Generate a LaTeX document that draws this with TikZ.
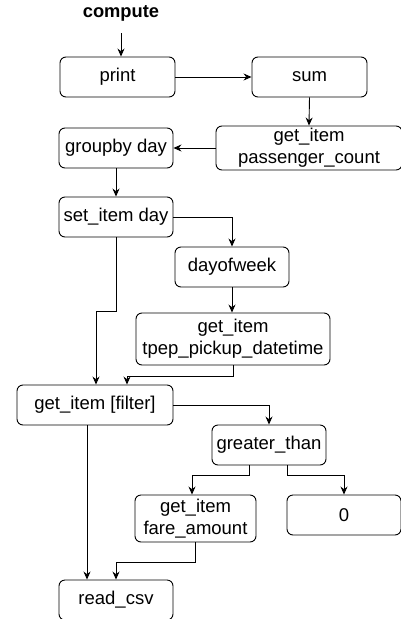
\documentclass[tikz,border=0pt]{standalone}
\usepackage{fontspec}
\setmainfont{Liberation Sans}
\usetikzlibrary{arrows.meta}
\begin{document}
\begin{tikzpicture}[x=1pt,y=-1pt,
  box/.style={draw=black,line width=0.9pt,rounded corners=6pt,rectangle,inner sep=0pt,align=center,
    font=\fontsize{18.5}{22}\selectfont},
  conn/.style={draw=black,line width=0.9pt,-{Stealth[length=8pt,width=7pt]}}]
\useasboundingbox (0,0) rectangle (400,619);
\node[font=\fontsize{18.3}{22}\selectfont\bfseries] (compute) at (121,13) {compute};
\coordinate (cstart) at (121,33);
\node[box,minimum width=115pt,minimum height=40pt] (print) at (117.5,77) {print};
\node[box,minimum width=115pt,minimum height=40pt] (sum) at (309.5,77) {sum};
\node[box,minimum width=186pt,minimum height=44pt] (gipc) at (309,148) {get\_item\\passenger\_count};
\node[box,minimum width=114pt,minimum height=40pt] (groupby) at (116,148) {groupby day};
\node[box,minimum width=114pt,minimum height=40pt] (setitem) at (116,217) {set\_item day};
\node[box,minimum width=114pt,minimum height=40pt] (dow) at (232,267) {dayofweek};
\node[box,minimum width=194pt,minimum height=52pt] (gitpep) at (233,339) {get\_item\\tpep\_pickup\_datetime};
\node[box,minimum width=156pt,minimum height=40pt] (filter) at (95,405) {get\_item [filter]};
\node[box,minimum width=114pt,minimum height=40pt] (gt) at (269,445) {greater\_than};
\node[box,minimum width=121pt,minimum height=47pt] (fare) at (195.5,518.5) {get\_item\\fare\_amount};
\node[box,minimum width=114pt,minimum height=40pt] (zero) at (344,515) {0};
\node[box,minimum width=114pt,minimum height=40pt] (readcsv) at (116,600) {read\_csv};

\draw[conn] (cstart) -- (cstart |- print.north);
\draw[conn] (print.east) -- (sum.west);
\draw[conn] (sum.south) -- (gipc.north);
\draw[conn] (gipc.west) -- (groupby.east);
\draw[conn] (groupby.south) -- (setitem.north);
\draw[conn] (setitem.east) -| (dow.north);
\draw[conn] (dow.south) -- (dow.south |- gitpep.north);
\draw[conn] (setitem.south) -- ++(0,74) -| ([xshift=1pt]filter.north);
\draw[conn] (gitpep.south) -- ++(0,11) -| ([xshift=32pt]filter.north);
\draw[conn] (filter.east) -| (gt.north);
\draw[conn] ([xshift=-20pt]gt.south) -- ++(0,10) -| ([xshift=-3.5pt]fare.north);
\draw[conn] ([xshift=18pt]gt.south) -- ++(0,10) -| (zero.north);
\draw[conn] (fare.south) -- ++(0,20) -| (readcsv.north);
\draw[conn] ([xshift=-8pt]filter.south) -- ([xshift=-8pt]filter.south |- readcsv.north);
\end{tikzpicture}
\end{document}
